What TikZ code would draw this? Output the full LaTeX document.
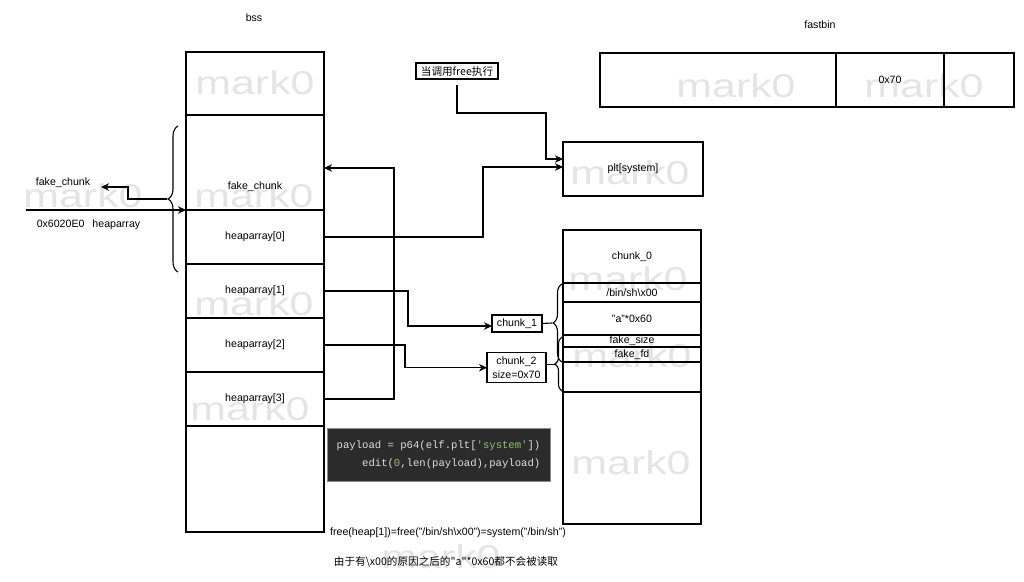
\documentclass[tikz,border=0pt]{standalone}
\usepackage{fontspec}
\setmainfont{Liberation Sans}
\setmonofont{Liberation Mono}
\newfontfamily\cjk{Noto Sans CJK SC}
\usepackage{xcolor}
\usetikzlibrary{positioning, arrows.meta, calc}
\usetikzlibrary{decorations.pathreplacing}
\definecolor{codebg}{RGB}{43,43,43}
\definecolor{codefg}{RGB}{222,222,222}
\definecolor{codestr}{RGB}{143,193,119}
\definecolor{wm}{RGB}{228,228,228}

\begin{document}
\begin{tikzpicture}[x=1pt, y=-1pt, line width=1.1pt,
	font=\fontsize{10.6}{12.5}\selectfont,
	cell/.style={draw, minimum width=138pt, inner sep=0pt, outer sep=0pt, anchor=north},
	tag/.style={draw, inner sep=1.5pt, outer sep=0pt, align=center},
	arr/.style={-{Stealth[length=8pt, width=7.5pt, inset=2.5pt]}, line width=1.1pt},
	brc/.style={decorate, decoration={brace, amplitude=#1}},
	wmark/.style={text=wm, font=\fontsize{33}{34}\selectfont, anchor=base, inner sep=0pt, xscale=1.3}]
		\useasboundingbox (0,0) rectangle (1024,581);
		
		% watermarks
		\foreach \wx/\wy in {255/94, 254/207, 83/207, 254/315, 250/420, 630/184, 628/290, 632/367, 631/474, 441/568, 736/97, 924/97}
			\node[wmark] at (\wx,\wy) {mark0};
		
		% bss
		\node (bsst) at (254,18) {bss};
		\node[cell, minimum height=63pt] (b0) at (255,52) {};
		\node[cell, minimum height=95pt, below=0pt of b0] (fc) {};
		\node[cell, minimum height=54pt, below=0pt of fc] (h0) {heaparray[0]};
		\node[cell, minimum height=54pt, below=0pt of h0] (h1) {heaparray[1]};
		\node[cell, minimum height=54pt, below=0pt of h1] (h2) {heaparray[2]};
		\node[cell, minimum height=54pt, below=0pt of h2] (h3) {heaparray[3]};
		\node[cell, minimum height=106pt, below=0pt of h3] (b7) {};
		\node (fct) at ([yshift=23pt]fc.south) {fake\_chunk};
		
		% left side
		\node (fkl) at (63,183) {fake\_chunk};
		\node (hpl) at (88.5,225) {0x6020E0\hspace{8pt}heaparray};
		\coordinate (hp) at (26,210);
		\coordinate (bt) at (167,199);
		\draw[brc=10pt] (178,272) -- (178,126);
		\draw[arr] (hp) -- (h0.north west);
		\draw[arr] (bt) -- ++(-39,0) |- ([xshift=7pt,yshift=-4pt]fkl.east);
		
		% plt
		\node[draw, minimum width=140pt, minimum height=54pt, inner sep=0pt, outer sep=0pt] (plt) at (633,169) {plt[system]};
		\node[tag, font=\cjk\fontsize{10.6}{12}\selectfont, minimum width=82pt, minimum height=16pt] (note) at (457,71) {当调用free执行};
		\draw[arr] ([yshift=-6pt]note.south) -- ++(0,28) -- ++(89,0) |- ([yshift=10pt]plt.west);
		
		% chunks
		\node[cell, minimum height=53pt] (k0) at (632,230) {chunk\_0};
		\node[cell, minimum height=19pt, below=0pt of k0] (k1) {/bin/sh\textbackslash x00};
		\node[cell, minimum height=33pt, below=0pt of k1] (k2) {"a"*0x60};
		\node[cell, minimum height=12pt, below=0pt of k2] (k3) {fake\_size};
		\node[cell, minimum height=15pt, below=0pt of k3] (k4) {fake\_fd};
		\node[cell, minimum height=30pt, below=0pt of k4] (k5) {};
		\node[cell, minimum height=132pt, below=0pt of k5] (k6) {};
		
		\node[tag, minimum width=50pt, minimum height=17pt] (c1) at (517,323.5) {chunk\_1};
		\node[tag, minimum width=59pt, minimum height=30pt, inner sep=0pt, font=\fontsize{10.6}{13.5}\selectfont] (c2) at (516.5,367.7) {chunk\_2\\size=0x70};
		\coordinate (r1) at (552,323);
		\coordinate (r2) at (555,364.7);
		\draw[brc=9pt] (562,362) -- (562,284);
		\draw[brc=7pt] (562,391) -- (562,337);
		\draw (c1.east) -- (r1);
		\draw ([yshift=3pt]c2.east) -- (r2);
		
		% pointers
		\draw[arr] (h0.east) -- ++(159,0) |- ([yshift=2pt]plt.west);
		\draw[arr] (h3.east) -- ++(70,0) |- ([yshift=-5.5pt]fc.east);
		\draw[arr] (h1.east) -- ++(84,0) |- ([yshift=-2.5pt]c1.west);
		\draw[arr] (h2.east) -- ++(81,0) |- (c2.west);
		
		% fastbin
		\node (fbt) at (820,25) {fastbin};
		\node[draw, minimum width=236pt, minimum height=54pt, inner sep=0pt, outer sep=0pt] (f0) at (718,80) {};
		\node[draw, minimum width=108pt, minimum height=54pt, inner sep=0pt, outer sep=0pt, right=0pt of f0] (f1) {0x70};
		\node[draw, minimum width=70pt, minimum height=54pt, inner sep=0pt, outer sep=0pt, right=0pt of f1] (f2) {};
		
		% payload
		\node[fill=codebg, draw=black!45, line width=0.8pt, minimum width=223pt, minimum height=53pt, align=right, text=codefg, font=\ttfamily\fontsize{10.6}{18}\selectfont] (code) at (438.5,454.5) {payload = p64(elf.plt[\textcolor{codestr}{'system'}])\\edit(\textcolor{codestr}{0},len(payload),payload)};
		
		\node (eq) at (448,533) {free(heap[1])=free("/bin/sh\textbackslash x00")=system("/bin/sh")};
		\node[font=\cjk\fontsize{10.6}{12}\selectfont] (why) at (446,562) {由于有\textbackslash x00的原因之后的"a"*0x60都不会被读取};
		
	\end{tikzpicture}
\end{document}
